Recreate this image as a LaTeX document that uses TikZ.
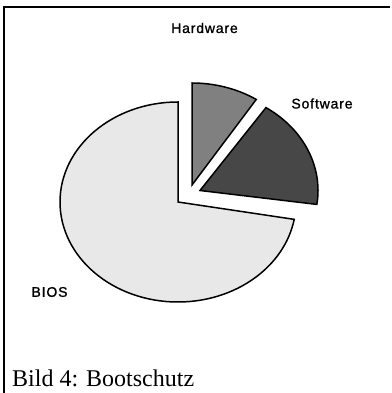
\documentclass[tikz,border=0pt]{standalone}
\usepackage{fontspec}
\setmainfont{Liberation Serif}
\newfontfamily\labelfont[LetterSpace=6,FakeBold=1.2]{Liberation Sans}
\begin{document}
\begin{tikzpicture}[x=1pt,y=1pt,
  frameline/.style={line width=1.6pt},
  slice/.style={draw=black,line width=1.5pt,line join=miter},
  plabel/.style={font=\labelfont\fontsize{14}{16}\selectfont,inner sep=0pt},
  caption/.style={font=\fontsize{24}{28}\selectfont,inner sep=0pt,anchor=base west}]
\useasboundingbox (0,0) rectangle (391,393);
% frame (top and left only)
\draw[frameline] (3.8,0) -- (3.8,386) -- (390,386);
% centres of the slices
\coordinate (cB) at (178,191);
\coordinate (cH) at (192,208);
\coordinate (cS) at (200,202.5);
% BIOS slice
\draw[slice,fill=black!9] (cB) -- ++(0,100)
  arc[start angle=90,end angle=350,x radius=118,y radius=100] -- cycle;
% Hardware slice
\draw[slice,fill=black!50] (cH) -- ++(0,102)
  arc[start angle=90,end angle=57,x radius=118,y radius=102] -- cycle;
% Software slice
\draw[slice,fill=black!72] (cS) -- ++({118*cos(56)},{100*sin(56)})
  arc[start angle=56,end angle=-8,x radius=118,y radius=100] -- cycle;
% labels
\node[plabel] (hw) at (204.5,365) {Hardware};
\node[plabel] (sw) at (322,289.5) {Software};
\node[plabel] (bios) at (49.5,101) {BIOS};
\node[caption] (cap) at (12,6) {Bild 4: Bootschutz};
\end{tikzpicture}
\end{document}
